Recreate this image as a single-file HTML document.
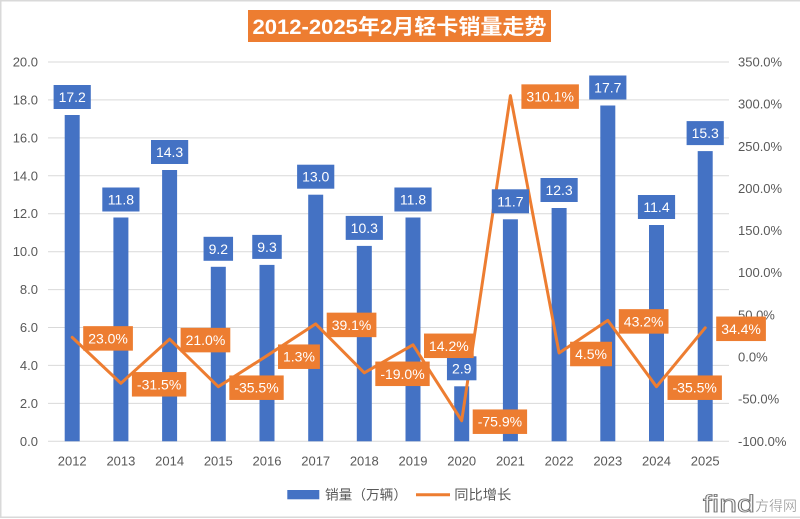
<!DOCTYPE html>
<html><head><meta charset="utf-8"><style>
html,body{margin:0;padding:0;background:#fff;}
svg{display:block;}
text{font-family:"Liberation Sans","Noto Sans CJK SC",sans-serif;}
</style></head><body>
<svg width="800" height="519" viewBox="0 0 800 519" xmlns="http://www.w3.org/2000/svg">
<rect x="0" y="0" width="800" height="519" fill="#fff"/>
<rect x="0.75" y="0.75" width="800" height="516.5" fill="none" stroke="#d9d9d9" stroke-width="1.5"/>
<!-- title -->
<rect x="248" y="10" width="303" height="32" fill="#ED7D31"/>
<text x="399.5" y="34" text-anchor="middle" font-size="21" font-weight="bold" fill="#fff" textLength="294" lengthAdjust="spacingAndGlyphs">2012-2025年2月轻卡销量走势</text>
<!-- gridlines -->
<g stroke="#d9d9d9" stroke-width="1">
<line x1="48" x2="729" y1="62" y2="62"/>
<line x1="48" x2="729" y1="99.9" y2="99.9"/>
<line x1="48" x2="729" y1="137.9" y2="137.9"/>
<line x1="48" x2="729" y1="175.8" y2="175.8"/>
<line x1="48" x2="729" y1="213.7" y2="213.7"/>
<line x1="48" x2="729" y1="251.7" y2="251.7"/>
<line x1="48" x2="729" y1="289.6" y2="289.6"/>
<line x1="48" x2="729" y1="327.5" y2="327.5"/>
<line x1="48" x2="729" y1="365.4" y2="365.4"/>
<line x1="48" x2="729" y1="403.4" y2="403.4"/>
<line x1="48" x2="729" y1="441.3" y2="441.3"/>
</g>
<!-- left axis labels -->
<g font-size="13" fill="#595959" text-anchor="end">
<text x="38" y="66.5">20.0</text>
<text x="38" y="104.4">18.0</text>
<text x="38" y="142.4">16.0</text>
<text x="38" y="180.3">14.0</text>
<text x="38" y="218.2">12.0</text>
<text x="38" y="256.2">10.0</text>
<text x="38" y="294.1">8.0</text>
<text x="38" y="332">6.0</text>
<text x="38" y="369.9">4.0</text>
<text x="38" y="407.9">2.0</text>
<text x="38" y="445.8">0.0</text>
</g>
<!-- right axis labels -->
<g font-size="13" fill="#595959">
<text x="738" y="66.5">350.0%</text>
<text x="738" y="108.6">300.0%</text>
<text x="738" y="150.8">250.0%</text>
<text x="738" y="192.9">200.0%</text>
<text x="738" y="235.1">150.0%</text>
<text x="738" y="277.2">100.0%</text>
<text x="738" y="319.4">50.0%</text>
<text x="738" y="361.5">0.0%</text>
<text x="738" y="403.7">-50.0%</text>
<text x="738" y="445.8">-100.0%</text>
</g>
<!-- category labels -->
<g font-size="13" fill="#595959" text-anchor="middle">
<text x="72.2" y="465.5">2012</text>
<text x="120.9" y="465.5">2013</text>
<text x="169.6" y="465.5">2014</text>
<text x="218.3" y="465.5">2015</text>
<text x="267" y="465.5">2016</text>
<text x="315.7" y="465.5">2017</text>
<text x="364.3" y="465.5">2018</text>
<text x="413" y="465.5">2019</text>
<text x="461.7" y="465.5">2020</text>
<text x="510.4" y="465.5">2021</text>
<text x="559.1" y="465.5">2022</text>
<text x="607.8" y="465.5">2023</text>
<text x="656.5" y="465.5">2024</text>
<text x="705.2" y="465.5">2025</text>
</g>
<!-- bars -->
<g fill="#4472C4">
<rect x="64.7" y="115" width="15" height="326.3"/>
<rect x="113.4" y="217.5" width="15" height="223.8"/>
<rect x="162.1" y="170" width="15" height="271.3"/>
<rect x="210.8" y="266.8" width="15" height="174.5"/>
<rect x="259.5" y="264.9" width="15" height="176.4"/>
<rect x="308.2" y="194.7" width="15" height="246.6"/>
<rect x="356.8" y="245.9" width="15" height="195.4"/>
<rect x="405.5" y="217.5" width="15" height="223.8"/>
<rect x="454.2" y="386.3" width="15" height="55"/>
<rect x="502.9" y="219.3" width="15" height="222"/>
<rect x="551.6" y="208" width="15" height="233.3"/>
<rect x="600.3" y="105.5" width="15" height="335.8"/>
<rect x="649" y="225" width="15" height="216.3"/>
<rect x="697.7" y="151.1" width="15" height="290.2"/>
</g>
<!-- line -->
<polyline fill="none" stroke="#ED7D31" stroke-width="3" stroke-linejoin="round" stroke-linecap="round"
 points="72.2,337.4 120.9,383.3 169.6,339.1 218.3,386.7 267,355.7 315.7,323.9 364.3,372.8 413,344.8 461.7,420.7 510.4,95.6 559.1,353 607.8,320.4 656.5,386.7 705.2,327.8"/>
<!-- blue value labels -->
<g fill="#4472C4">
<rect x="53.6" y="85" width="37.2" height="24"/>
<rect x="102.3" y="187.5" width="37.2" height="24"/>
<rect x="151" y="140" width="37.2" height="24"/>
<rect x="203.55" y="236.8" width="29.5" height="24"/>
<rect x="252.25" y="234.9" width="29.5" height="24"/>
<rect x="297.1" y="164.7" width="37.2" height="24"/>
<rect x="345.7" y="215.9" width="37.2" height="24"/>
<rect x="394.4" y="187.5" width="37.2" height="24"/>
<rect x="446.95" y="356.3" width="29.5" height="24"/>
<rect x="491.8" y="189.3" width="37.2" height="24"/>
<rect x="540.5" y="178" width="37.2" height="24"/>
<rect x="589.2" y="75.5" width="37.2" height="24"/>
<rect x="637.9" y="195" width="37.2" height="24"/>
<rect x="686.6" y="121.1" width="37.2" height="24"/>
</g>
<g font-size="14" fill="#fff" text-anchor="middle">
<text x="72.2" y="102">17.2</text>
<text x="120.9" y="204.5">11.8</text>
<text x="169.6" y="157">14.3</text>
<text x="218.3" y="253.8">9.2</text>
<text x="267" y="251.9">9.3</text>
<text x="315.7" y="181.7">13.0</text>
<text x="364.3" y="232.9">10.3</text>
<text x="413" y="204.5">11.8</text>
<text x="461.7" y="373.3">2.9</text>
<text x="510.4" y="206.3">11.7</text>
<text x="559.1" y="195">12.3</text>
<text x="607.8" y="92.5">17.7</text>
<text x="656.5" y="212">11.4</text>
<text x="705.2" y="138.1">15.3</text>
</g>
<!-- orange labels -->
<g fill="#ED7D31">
<rect x="83.2" y="326.15" width="49.7" height="24.5"/>
<rect x="131.9" y="372.05" width="54.4" height="24.5"/>
<rect x="180.6" y="327.85" width="49.7" height="24.5"/>
<rect x="229.3" y="375.45" width="54.4" height="24.5"/>
<rect x="278" y="344.45" width="41.9" height="24.5"/>
<rect x="326.7" y="312.65" width="49.7" height="24.5"/>
<rect x="375.3" y="361.55" width="54.4" height="24.5"/>
<rect x="424" y="333.55" width="49.7" height="24.5"/>
<rect x="472.7" y="409.45" width="54.4" height="24.5"/>
<rect x="521.4" y="84.35" width="57.5" height="24.5"/>
<rect x="570.1" y="341.75" width="41.9" height="24.5"/>
<rect x="618.8" y="309.15" width="49.7" height="24.5"/>
<rect x="667.5" y="375.45" width="54.4" height="24.5"/>
<rect x="716.2" y="316.55" width="49.7" height="24.5"/>
</g>
<g font-size="14" fill="#fff" text-anchor="middle">
<text x="108.05" y="343.4">23.0%</text>
<text x="159.1" y="389.3">-31.5%</text>
<text x="205.45" y="345.1">21.0%</text>
<text x="256.5" y="392.7">-35.5%</text>
<text x="298.95" y="361.7">1.3%</text>
<text x="351.55" y="329.9">39.1%</text>
<text x="402.5" y="378.8">-19.0%</text>
<text x="448.85" y="350.8">14.2%</text>
<text x="499.9" y="426.7">-75.9%</text>
<text x="550.15" y="101.6">310.1%</text>
<text x="591.05" y="359">4.5%</text>
<text x="643.65" y="326.4">43.2%</text>
<text x="694.7" y="392.7">-35.5%</text>
<text x="741.05" y="333.8">34.4%</text>
</g>
<!-- legend -->
<rect x="287.3" y="490" width="32" height="9.3" fill="#4472C4"/>
<text x="325" y="499.5" font-size="13.5" fill="#595959" textLength="82" lengthAdjust="spacingAndGlyphs">销量（万辆）</text>
<line x1="416" y1="494.7" x2="450" y2="494.7" stroke="#ED7D31" stroke-width="3"/>
<text x="454.3" y="499.5" font-size="13.5" fill="#595959" textLength="57" lengthAdjust="spacingAndGlyphs">同比增长</text>
<!-- watermark -->
<text x="703" y="512" font-size="24" fill="#f4f4f4" stroke="#6a6a6a" stroke-width="0.8" textLength="52" lengthAdjust="spacingAndGlyphs">find</text>
<text x="755" y="511" font-size="14" fill="#8a8a8a" stroke="#ffffff" stroke-width="0.3" textLength="42" lengthAdjust="spacingAndGlyphs">方得网</text>
</svg>
</body></html>
